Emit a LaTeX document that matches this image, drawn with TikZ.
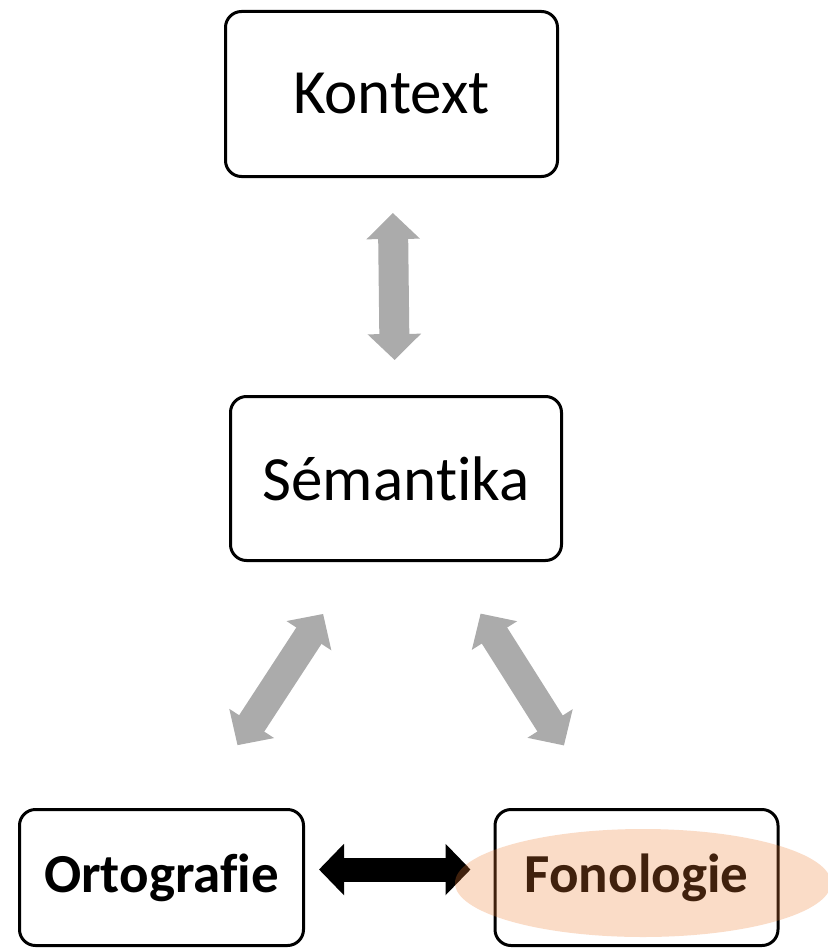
\documentclass[tikz,border=0pt]{standalone}
\usepackage{fontspec}
\setmainfont[Ligatures=NoCommon]{Carlito}
\usetikzlibrary{arrows.meta, shapes.geometric}
\definecolor{arrowgray}{RGB}{171,171,171}
\definecolor{accentorange}{RGB}{237,125,49}

\begin{document}
\begin{tikzpicture}[x=1pt, y=-1pt,
  box/.style={draw, line width=3pt, rounded corners=16pt, inner sep=0pt},
  bigarrow/.style={line width=30pt, arrows={Triangle[length=26pt, width=52pt]-Triangle[length=26pt, width=52pt]}},
  grayarrow/.style={bigarrow, draw=arrowgray}]
  \useasboundingbox (0, 0) rectangle (827, 950);
  \node [box, minimum width=332pt, minimum height=165pt, font=\fontsize{63}{70}\selectfont] (kontext) at (391.5, 94) {Kontext};
  \node [box, minimum width=331pt, minimum height=164pt, font=\fontsize{63}{70}\selectfont] (semantika) at (396, 478.5) {Sémantika};
  \node [box, minimum width=284pt, minimum height=136pt, font=\bfseries\fontsize{55}{60}\selectfont] (ortografie) at (161.5, 877.5) {Ortografie};
  \node [box, minimum width=283pt, minimum height=136pt, font=\bfseries\fontsize{55}{60}\selectfont] (fonologie) at (636.5, 877.5) {Fonologie};
  \draw [grayarrow, shorten <=35pt, shorten >=35pt] (kontext) -- (semantika);
  \draw [grayarrow, shorten <=62pt, shorten >=75pt] ([xshift=-39pt]semantika.south) -- ([xshift=35pt]ortografie.north);
  \draw [grayarrow, shorten <=61pt, shorten >=74pt] ([xshift=52pt]semantika.south) -- ([xshift=-33pt]fonologie.north);
  \draw [line width=24pt, arrows={Triangle[length=25pt, width=50pt]-Triangle[length=25pt, width=50pt]}, shorten <=14pt, shorten >=23pt] ([yshift=8pt]ortografie.east) -- ([yshift=8pt]fonologie.west);
  \node [ellipse, fill=accentorange, fill opacity=0.27, minimum width=376pt, minimum height=108pt] (highlight) at (643, 883) {};
\end{tikzpicture}
\end{document}
